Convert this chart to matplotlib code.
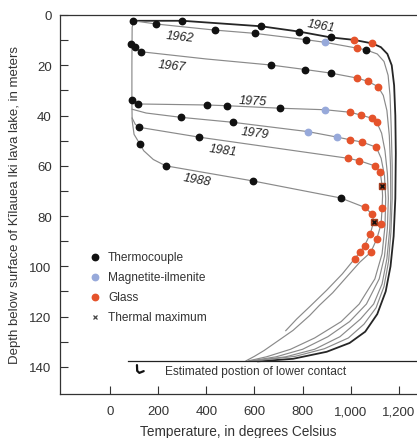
import matplotlib
matplotlib.use("Agg")
import matplotlib.pyplot as plt
from matplotlib.ticker import MultipleLocator, FixedLocator, FuncFormatter

plt.rcParams['font.family'] = ['Liberation Sans', 'DejaVu Sans']

# temperature profiles (deg C, depth m)
years = ["1961", "1962", "1967", "1975", "1979", "1981", "1988"]

t_1961 = [97, 301, 629, 785, 916, 1013, 1089, 1125, 1152, 1170, 1180, 1185, 1187, 1185, 1178, 1165, 1145, 1110, 1060, 995, 900, 760, 615]
d_1961 = [2.3, 2.3, 4.5, 6.6, 8.9, 9.9, 11.3, 12.8, 15.5, 20, 28, 40, 55, 73, 88, 100, 110, 119, 126, 130.5, 134, 136.8, 137.8]

t_1962 = [97, 193, 435, 601, 813, 894, 1027, 1064, 1110, 1138, 1155, 1163, 1168, 1172, 1172, 1167, 1157, 1138, 1105, 1055, 990, 890, 770, 605]
d_1962 = [2.3, 3.6, 6.0, 7.3, 9.8, 10.9, 13.2, 13.9, 15.5, 18.5, 24, 32, 45, 60, 73, 86, 98, 108, 116.5, 123, 128.5, 132.8, 135.8, 137.6]

t_1967 = [87, 104, 127, 400, 668, 811, 916, 1027, 1071, 1113, 1135, 1150, 1160, 1165, 1166, 1162, 1150, 1130, 1095, 1040, 955, 850, 730, 595]
d_1967 = [11.5, 12.8, 14.6, 17.5, 19.9, 21.7, 23.1, 25.1, 26.4, 28.5, 32, 38, 48, 60, 73, 85, 97, 107, 115, 121, 128, 133, 136, 137.6]

t_1975 = [90, 117, 401, 487, 708, 894, 998, 1041, 1089, 1108, 1128, 1142, 1152, 1156, 1152, 1140, 1118, 1065, 995, 905, 800, 690, 585]
d_1975 = [33.7, 35.4, 35.8, 36.1, 37.1, 37.7, 38.7, 39.8, 41.1, 42.7, 47, 54, 63, 73, 85, 96, 105, 115, 122, 128, 133, 136, 137.6]

t_1979 = [92, 150, 293, 511, 822, 944, 995, 1048, 1106, 1126, 1140, 1145, 1142, 1130, 1100, 1035, 960, 850, 750, 650, 575]
d_1979 = [37.5, 39, 40.7, 42.7, 46.4, 48.6, 49.6, 50.6, 52.6, 57, 64, 73, 84, 95, 105, 115, 122, 128.5, 133, 136, 137.6]

t_1981 = [92, 105, 122, 370, 988, 1036, 1099, 1122, 1130, 1132, 1130, 1126, 1108, 1083, 1037, 985, 925, 870, 829, 760, 700, 640, 600, 565]
d_1981 = [41, 43.5, 44.7, 48.6, 57, 58, 60, 62.3, 67.9, 72, 76.9, 83.1, 89.1, 94.4, 98.4, 104, 110.5, 115.5, 119.6, 125.5, 129.5, 133.5, 135.8, 137.6]

t_1988 = [97, 92, 91, 91, 92, 100, 124, 140, 180, 231, 592, 958, 1057, 1089, 1095, 1081, 1057, 1038, 1016, 965, 900, 830, 775, 730]
d_1988 = [2.3, 5, 20, 35, 42, 47.5, 51.3, 54, 57.5, 60, 66, 72.8, 76.5, 79.2, 82.2, 87.1, 91.8, 94.4, 97, 103, 109.5, 116, 121, 125.6]

# measurements
tc_t = [97, 301, 629, 785, 916, 193, 435, 601, 813, 1064, 87, 104, 127, 668, 811, 916,
        90, 117, 401, 487, 708, 293, 511, 122, 370, 124, 231, 592, 958]
tc_d = [2.3, 2.3, 4.5, 6.6, 8.9, 3.6, 6.0, 7.3, 9.8, 13.9, 11.5, 12.8, 14.6, 19.9, 21.7, 23.1,
        33.7, 35.4, 35.8, 36.1, 37.1, 40.7, 42.7, 44.7, 48.6, 51.3, 60, 66, 72.8]

mi_t = [894, 894, 822, 944]
mi_d = [10.9, 37.7, 46.4, 48.6]

gl_t = [1013, 1089, 1027, 1027, 1071, 1113, 998, 1041, 1089, 1108, 995, 1048, 1106,
        988, 1036, 1099, 1122, 1130, 1126, 1108, 1083, 1057, 1089, 1081, 1057, 1038, 1016]
gl_d = [9.9, 11.3, 13.2, 25.1, 26.4, 28.5, 38.7, 39.8, 41.1, 42.7, 49.6, 50.6, 52.6,
        57, 58, 60, 62.3, 76.9, 83.1, 89.1, 94.4, 76.5, 79.2, 87.1, 91.8, 94.4, 97]

tm_t = [1130, 1095]
tm_d = [67.9, 82.2]

contact_depth = 137.6

# year labels: (temp, depth, rotation)
lab_t = [878, 290, 256, 594, 601, 470, 360]
lab_d = [4.3, 8.5, 20.2, 34.0, 46.8, 53.6, 65.5]
lab_rot = [-10, -6, -6, -3, -7, -8, -10]

curves = {"1961": (t_1961, d_1961), "1962": (t_1962, d_1962), "1967": (t_1967, d_1967),
          "1975": (t_1975, d_1975), "1979": (t_1979, d_1979), "1981": (t_1981, d_1981),
          "1988": (t_1988, d_1988)}

fig = plt.figure(figsize=(4.17, 4.39), dpi=100)
ax = fig.add_axes([60/417, 44/439, 357/417, 379/439])

for y in years:
    t, d = curves[y]
    if y == "1961":
        ax.plot(t, d, color="#262626", lw=1.3, zorder=2)
    else:
        ax.plot(t, d, color="#8a8a8a", lw=0.85, zorder=2)

ax.plot(tc_t, tc_d, 'o', color="#111111", ms=4.6, zorder=4)
ax.plot(mi_t, mi_d, 'o', color="#97a9da", ms=4.6, zorder=4)
ax.plot(gl_t, gl_d, 'o', color="#e5532b", ms=4.6, zorder=4)
ax.plot(tm_t, tm_d, 's', color="#a33c1d", ms=3.8, zorder=5)
ax.plot(tm_t, tm_d, 'x', color="#111111", ms=3, mew=1, zorder=6)

for y, lt, ld, r in zip(years, lab_t, lab_d, lab_rot):
    ax.text(lt, ld, y, fontsize=9, style='italic', color="#222222",
            ha='center', va='center', rotation=r, zorder=7)

# lower contact
ax.axhline(contact_depth, xmin=(75 + 207.6) / (1275 + 207.6), color="#222222", lw=0.9)
ax.plot([112, 113, 122, 140], [139.3, 141.6, 142.4, 141.7], color="#111111", lw=1.6,
        solid_capstyle='round')
ax.text(228, 141.8, "Estimated postion of lower contact", fontsize=8.6,
        color="#333333", va='center', ha='left')

# legend drawn by hand
leg_labels = ["Thermocouple", "Magnetite-ilmenite", "Glass", "Thermal maximum"]
leg_y = [0.362, 0.309, 0.256, 0.203]
leg_col = ["#111111", "#97a9da", "#e5532b", None]
for lbl, yy, c in zip(leg_labels, leg_y, leg_col):
    if c is None:
        ax.plot([0.098], [yy], 'x', color="#444444", ms=3.5, mew=0.9, transform=ax.transAxes)
    else:
        ax.plot([0.098], [yy], 'o', color=c, ms=4.6, transform=ax.transAxes)
    ax.text(0.1345, yy, lbl, fontsize=8.6, color="#333333", va='center', ha='left',
            transform=ax.transAxes)

ax.set_xlim(-207.6, 1275)
ax.set_ylim(150.8, 0)

ax.spines['right'].set_visible(False)
for s in ['left', 'top', 'bottom']:
    ax.spines[s].set_color("#333333")
    ax.spines[s].set_linewidth(0.9)

ax.set_xticks([0, 200, 400, 600, 800, 1000, 1200])
ax.xaxis.set_major_formatter(FuncFormatter(lambda v, p: f"{int(v):,}"))
ax.yaxis.set_major_locator(FixedLocator([0, 20, 40, 60, 80, 100, 120, 140]))
ax.yaxis.set_minor_locator(FixedLocator([10, 30, 50, 70, 90, 110, 130]))
ax.tick_params(axis='x', direction='in', length=5.5, width=0.8, pad=8,
               labelsize=9.5, colors="#333333")
ax.tick_params(axis='y', which='both', direction='in', length=5.8, width=0.8, pad=6,
               labelsize=9.5, colors="#333333")

ax.set_xlabel("Temperature, in degrees Celsius", fontsize=9.8, color="#333333", labelpad=5)
ax.set_ylabel("Depth below surface of Kīlauea Iki lava lake, in meters", fontsize=9.5,
              color="#333333", labelpad=6)

fig.savefig("out.png", dpi=100)
plt.close(fig)
